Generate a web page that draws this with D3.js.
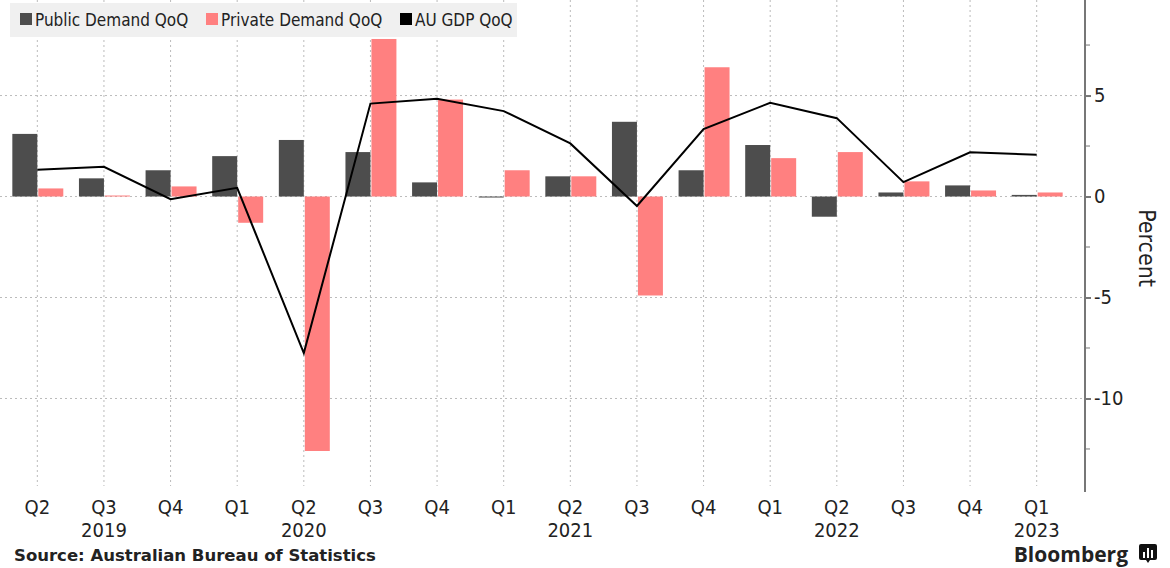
<!DOCTYPE html>
<html>
<head>
<meta charset="utf-8">
<script src="https://cdn.jsdelivr.net/npm/d3@7"></script>
<style>
  body { margin: 0; background: #fff; }
  text { font-family: "Liberation Sans Narrow", "DejaVu Sans Condensed", "Open Sans", sans-serif; fill: #222; }
  .grid line { stroke: #bbb; stroke-dasharray: 2,3; stroke-width: 1; }
</style>
</head>
<body>
<div id="chart"></div>
<script>
// quarters, Q2 2019 .. Q1 2023
var quarters = ['Q2','Q3','Q4','Q1','Q2','Q3','Q4','Q1','Q2','Q3','Q4','Q1','Q2','Q3','Q4','Q1'];
var years = ['','2019','','','2020','','','','2021','','','','2022','','','2023'];
var publicDemand  = [3.1, 0.9, 1.3, 2.0, 2.8, 2.2, 0.7, -0.05, 1.0, 3.7, 1.3, 2.55, -1.0, 0.2, 0.55, 0.08];
var privateDemand = [0.4, 0.05, 0.5, -1.3, -12.6, 7.8, 4.8, 1.3, 1.0, -4.9, 6.4, 1.9, 2.2, 0.75, 0.3, 0.2];
var gdp           = [1.32, 1.47, -0.13, 0.43, -7.75, 4.6, 4.84, 4.23, 2.63, -0.47, 3.34, 4.64, 3.88, 0.71, 2.19, 2.07];
var yTicks = [5, 0, -5, -10];
var yMinor = [7.5, 2.5, -2.5, -7.5, -12.5];

var width = 1170, height = 568;
var plotTop = 0, plotBottom = 492, axisX = 1085;

var svg = d3.select('#chart').append('svg')
  .attr('width', width)
  .attr('height', height);

var idx = d3.range(quarters.length);

var xScale = d3.scaleBand()
  .domain(idx)
  .range([4, 1070])
  .paddingInner(0.25)
  .paddingOuter(0.125);

var yScale = d3.scaleLinear()
  .domain([-14.63, 9.73])
  .range([plotBottom, plotTop]);

var half = xScale.bandwidth() / 2;
function cx(i) { return xScale(i) + half; }

// gridlines
var grid = svg.append('g').attr('class', 'grid');
grid.selectAll('.hg').data(yTicks).enter().append('line')
  .attr('x1', 0).attr('x2', axisX)
  .attr('y1', function (d) { return yScale(d); })
  .attr('y2', function (d) { return yScale(d); });
grid.selectAll('.vg').data(idx).enter().append('line')
  .attr('x1', cx).attr('x2', cx)
  .attr('y1', plotTop).attr('y2', plotBottom - 6);

// legend
var legend = svg.append('g');
legend.append('rect')
  .attr('x', 10).attr('y', 3).attr('width', 507).attr('height', 34)
  .attr('fill', '#f0f0f0');
var legendItems = [
  {name: 'Public Demand QoQ', color: '#4d4d4d', x: 20},
  {name: 'Private Demand QoQ', color: '#ff8080', x: 206},
  {name: 'AU GDP QoQ', color: '#000', x: 400}
];
legendItems.forEach(function (l) {
  legend.append('rect')
    .attr('x', l.x).attr('y', 13).attr('width', 12).attr('height', 12)
    .attr('fill', l.color);
  legend.append('text')
    .attr('x', l.x + 15).attr('y', 25.5)
    .attr('font-size', 17)
    .text(l.name);
});

// bars
var bars = svg.append('g');
bars.selectAll('.pub').data(publicDemand).enter().append('rect')
  .attr('fill', '#4d4d4d')
  .attr('x', function (d, i) { return xScale(i); })
  .attr('width', half)
  .attr('y', function (d) { return yScale(Math.max(0, d)); })
  .attr('height', function (d) { return Math.abs(yScale(d) - yScale(0)); });
bars.selectAll('.priv').data(privateDemand).enter().append('rect')
  .attr('fill', '#ff8080')
  .attr('x', function (d, i) { return cx(i) + 1; })
  .attr('width', half)
  .attr('y', function (d) { return yScale(Math.max(0, d)); })
  .attr('height', function (d) { return Math.abs(yScale(d) - yScale(0)); });

// gdp line
var line = d3.line()
  .x(function (d, i) { return cx(i); })
  .y(function (d) { return yScale(d); });
svg.append('path')
  .datum(gdp)
  .attr('fill', 'none')
  .attr('stroke', '#000')
  .attr('stroke-width', 2)
  .attr('d', line);

// right axis
var yAxis = d3.axisRight(yScale)
  .tickValues(yTicks)
  .tickSize(6)
  .tickPadding(3)
  .tickFormat(function (d) { return d < 0 ? '-' + Math.abs(d) : d; });
var ay = svg.append('g')
  .attr('transform', 'translate(' + axisX + ',0)')
  .call(yAxis);
ay.select('.domain').remove();
ay.selectAll('line').attr('stroke', '#777').attr('stroke-width', 2);
ay.selectAll('text').attr('font-size', 20).attr('font-family', null).attr('fill', '#222');
ay.append('line')
  .attr('x1', 0).attr('x2', 0)
  .attr('y1', plotTop).attr('y2', plotBottom)
  .attr('stroke', '#777').attr('stroke-width', 2);
ay.selectAll('.minor').data(yMinor).enter().append('line')
  .attr('x1', 0).attr('x2', 5)
  .attr('y1', function (d) { return yScale(d); })
  .attr('y2', function (d) { return yScale(d); })
  .attr('stroke', '#777').attr('stroke-width', 1);

svg.append('text')
  .attr('transform', 'translate(1139,248) rotate(90)')
  .attr('text-anchor', 'middle')
  .attr('font-size', 23)
  .text('Percent');

// x labels
var xl = svg.append('g');
xl.selectAll('.q').data(quarters).enter().append('text')
  .attr('x', function (d, i) { return cx(i); })
  .attr('y', 514)
  .attr('text-anchor', 'middle')
  .attr('font-size', 20)
  .text(function (d) { return d; });
xl.selectAll('.yr').data(years).enter().append('text')
  .attr('x', function (d, i) { return cx(i); })
  .attr('y', 537)
  .attr('text-anchor', 'middle')
  .attr('font-size', 20)
  .text(function (d) { return d; });

// footer
svg.append('text')
  .attr('x', 14).attr('y', 561)
  .attr('font-size', 16.5).attr('font-weight', 'bold')
  .style('font-family', '"DejaVu Sans", sans-serif')
  .text('Source: Australian Bureau of Statistics');
svg.append('text')
  .attr('x', 1128).attr('y', 562)
  .attr('text-anchor', 'end')
  .attr('font-size', 21).attr('font-weight', 'bold')
  .style('font-family', '"Open Sans", sans-serif')
  .text('Bloomberg');
var logo = svg.append('g').attr('transform', 'translate(1139,544)');
logo.append('path')
  .attr('d', 'M2,0 H16 Q18,0 18,2 V14 Q18,16 16,16 H11 L9,19 L7,16 H2 Q0,16 0,14 V2 Q0,0 2,0 Z')
  .attr('fill', '#111');
[[4, 8, 6], [8, 4, 10], [12, 6, 8]].forEach(function (b) {
  logo.append('rect').attr('x', b[0]).attr('y', b[1]).attr('width', 2).attr('height', b[2]).attr('fill', '#fff');
});
</script>
</body>
</html>
